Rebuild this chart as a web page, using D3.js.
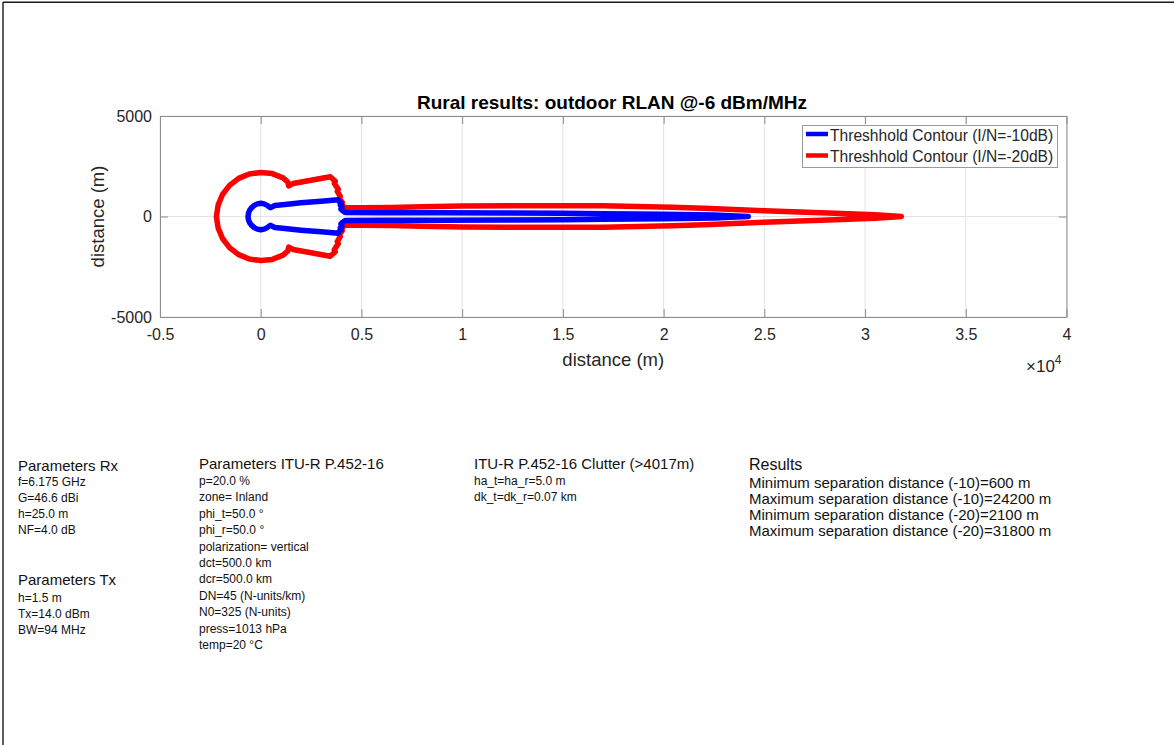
<!DOCTYPE html>
<html>
<head>
<meta charset="utf-8">
<script src="https://cdn.jsdelivr.net/npm/d3@7/dist/d3.min.js"></script>
<style>
  html, body { margin: 0; padding: 0; background: #fff; }
  svg { display: block; }
  text { font-family: "Liberation Sans", Arial, Helvetica, sans-serif; }
</style>
</head>
<body>
<svg id="chart" width="1174" height="745"></svg>
<script>
// ---------------- DATA ----------------
const chartTitle = "Rural results: outdoor RLAN @-6 dBm/MHz";
const xLabel = "distance (m)";
const yLabel = "distance (m)";
const xTicks = [-5000, 0, 5000, 10000, 15000, 20000, 25000, 30000, 35000, 40000];
const xTickLabels = ["-0.5", "0", "0.5", "1", "1.5", "2", "2.5", "3", "3.5", "4"];
const xExponent = "4";
const yTicks = [-5000, 0, 5000];
const yTickLabels = ["-5000", "0", "5000"];
const seriesNames = ["Threshhold Contour (I/N=-10dB)", "Threshhold Contour (I/N=-20dB)"];
const seriesColors = ["#0000ff", "#ff0000"];

// Contour I/N = -10 dB : azimuth (deg) and separation distance (m)
const azimuth10 = [0, 0.178, 0.315, 0.472, 0.611, 0.836, 1.178, 1.814, 2.726,
  4.24, 5.45, 6.65, 8.07, 9.37, 10.9, 12.2, 14.2, 18.8, 26.6, 38.2, 42, 45,
  60, 75, 90, 105, 120, 135, 150, 165, 180,
  195, 210, 225, 240, 255, 270, 285, 300, 315,
  318, 321.8, 333.4, 341.2, 345.8, 347.8, 349.1, 350.63, 351.93, 353.35, 354.55, 355.76,
  357.274, 358.186, 358.822, 359.164, 359.389, 359.528, 359.685, 359.822, 360];
const distance10 = [24200, 22500, 20000, 17000, 15000, 12000, 9000, 6000, 4200,
  4060, 4000, 4060, 3990, 4050, 3960, 3940, 3095, 2112, 1342, 890, 660, 640,
  640, 650, 660, 650, 640, 630, 630, 630, 630,
  630, 630, 630, 640, 650, 660, 650, 640, 640,
  660, 890, 1342, 2112, 3095, 3940, 3960, 4050, 3990, 4060, 4000, 4060,
  4200, 6000, 9000, 12000, 15000, 17000, 20000, 22500, 24200];

// Contour I/N = -20 dB : azimuth (deg) and separation distance (m)
const azimuth20 = [0, 0.169, 0.322, 0.665, 1.068, 1.292, 1.786, 2.357, 2.977, 3.434, 3.960, 5.029, 5.915,
  7.23, 8.57, 9.81, 13.0, 14.21, 18.21, 19.32, 24.33, 25.31, 29.85, 35.75, 45.71, 47.6,
  52, 60, 75, 90, 105, 120, 135, 150, 165, 180,
  195, 210, 225, 240, 255, 270, 285, 300, 308,
  312.4, 314.29, 324.25, 330.15, 334.69, 335.67, 340.68, 341.79, 345.79, 347.0, 350.19, 351.43, 352.77,
  354.085, 354.971, 356.04, 356.566, 357.023, 357.643, 358.214, 358.708, 358.932, 359.335, 359.678, 359.831, 360];
const distance20 = [31800, 30500, 28500, 25000, 22000, 20400, 17008, 13011, 10014, 8014, 6516, 5019, 4172,
  4133, 4025, 4110, 4003, 4075, 4000, 4080, 4006, 4093, 3978, 3081, 2291, 2060,
  2180, 2220, 2210, 2190, 2190, 2190, 2190, 2190, 2190, 2200,
  2190, 2190, 2190, 2190, 2190, 2190, 2210, 2220, 2180,
  2060, 2291, 3081, 3978, 4093, 4006, 4080, 4000, 4075, 4003, 4110, 4025, 4133,
  4172, 5019, 6516, 8014, 10014, 13011, 17008, 20400, 22000, 25000, 28500, 30500, 31800];

const rxTitle = "Parameters Rx";
const rxLines = ["f=6.175 GHz", "G=46.6 dBi", "h=25.0 m", "NF=4.0 dB"];
const txTitle = "Parameters Tx";
const txLines = ["h=1.5 m", "Tx=14.0 dBm", "BW=94 MHz"];
const itTitle = "Parameters ITU-R P.452-16";
const itLines = ["p=20.0 %", "zone= Inland", "phi_t=50.0 °", "phi_r=50.0 °", "polarization= vertical",
  "dct=500.0 km", "dcr=500.0 km", "DN=45 (N-units/km)", "N0=325 (N-units)", "press=1013 hPa", "temp=20 °C"];
const clTitle = "ITU-R P.452-16 Clutter (>4017m)";
const clLines = ["ha_t=ha_r=5.0 m", "dk_t=dk_r=0.07 km"];
const resTitle = "Results";
const resLines = ["Minimum separation distance (-10)=600 m", "Maximum separation distance (-10)=24200 m",
  "Minimum separation distance (-20)=2100 m", "Maximum separation distance (-20)=31800 m"];

// ---------------- DRAW ----------------
const svg = d3.select("#chart");
const textColor = "#262626";

// figure frame (top and left edges)
svg.append("line").attr("x1", 3).attr("x2", 1174).attr("y1", 2.2).attr("y2", 2.2)
  .attr("stroke", "#1a1a1a").attr("stroke-width", 1.6);
svg.append("line").attr("x1", 3).attr("x2", 3).attr("y1", 2).attr("y2", 745)
  .attr("stroke", "#1a1a1a").attr("stroke-width", 1.4);

const plot = { left: 160, right: 1066.5, top: 116, bottom: 317 };
const x = d3.scaleLinear().domain([-5000, 40000]).range([plot.left, plot.right]);
const y = d3.scaleLinear().domain([-5000, 5000]).range([plot.bottom, plot.top]);

// grid
const grid = svg.append("g");
grid.selectAll("line.gx").data(xTicks).join("line")
  .attr("x1", d => x(d)).attr("x2", d => x(d)).attr("y1", plot.top).attr("y2", plot.bottom)
  .attr("stroke", "#e3e3e3").attr("stroke-width", 1);
grid.selectAll("line.gy").data(yTicks).join("line")
  .attr("y1", d => y(d)).attr("y2", d => y(d)).attr("x1", plot.left).attr("x2", plot.right)
  .attr("stroke", "#e3e3e3").attr("stroke-width", 1);

// contours
function toXY(az, dist) {
  return az.map((a, i) => {
    const r = a * Math.PI / 180;
    return [dist[i] * Math.cos(r), dist[i] * Math.sin(r)];
  });
}
const line = d3.line().x(d => x(d[0])).y(d => y(d[1]));
const contours = [toXY(azimuth10, distance10), toXY(azimuth20, distance20)];
const cg = svg.append("g");
[1, 0].forEach(i => {
  cg.append("path").attr("d", line(contours[i]))
    .attr("fill", "none").attr("stroke", seriesColors[i])
    .attr("stroke-width", 5.5).attr("stroke-linejoin", "round").attr("stroke-linecap", "round");
});

// axes
const axColor = "#8c8c8c";
const tickFont = 16;
const xAxisB = d3.axisBottom(x).tickValues(xTicks).tickFormat((d, i) => xTickLabels[i]).tickSizeInner(-8).tickSizeOuter(0).tickPadding(12);
const xAxisT = d3.axisTop(x).tickValues(xTicks).tickFormat("").tickSizeInner(-8).tickSizeOuter(0);
const yAxisL = d3.axisLeft(y).tickValues(yTicks).tickFormat((d, i) => yTickLabels[i]).tickSizeInner(-8).tickSizeOuter(0).tickPadding(8);
const yAxisR = d3.axisRight(y).tickValues(yTicks).tickFormat("").tickSizeInner(-8).tickSizeOuter(0);

function styleAxis(g) {
  g.select(".domain").attr("stroke", axColor).attr("stroke-width", 1);
  g.selectAll(".tick line").attr("stroke", axColor);
  g.selectAll(".tick text").attr("fill", textColor).attr("font-size", tickFont)
    .attr("font-family", "'Liberation Sans', Arial, Helvetica, sans-serif");
}
svg.append("g").attr("transform", `translate(0,${plot.bottom})`).call(xAxisB).call(styleAxis);
svg.append("g").attr("transform", `translate(0,${plot.top})`).call(xAxisT).call(styleAxis);
svg.append("g").attr("transform", `translate(${plot.left},0)`).call(yAxisL).call(styleAxis);
svg.append("g").attr("transform", `translate(${plot.right},0)`).call(yAxisR).call(styleAxis);

// exponent
const ex = svg.append("text").attr("x", 1026).attr("y", 372).attr("fill", textColor).attr("font-size", 17);
ex.append("tspan").text("×10");
ex.append("tspan").attr("font-size", 12).attr("dy", -8).text(xExponent);

// labels & title
svg.append("text").attr("x", (plot.left + plot.right) / 2).attr("y", 366).attr("text-anchor", "middle")
  .attr("fill", textColor).attr("font-size", 18.5).text(xLabel);
svg.append("text").attr("transform", `translate(104,${(plot.top + plot.bottom) / 2}) rotate(-90)`)
  .attr("text-anchor", "middle").attr("fill", textColor).attr("font-size", 18.5).text(yLabel);
svg.append("text").attr("x", 612).attr("y", 109).attr("text-anchor", "middle")
  .attr("fill", "#000").attr("font-size", 19).attr("font-weight", "bold").text(chartTitle);

// legend
const lg = svg.append("g");
lg.append("rect").attr("x", 802.5).attr("y", 125.5).attr("width", 255).attr("height", 42)
  .attr("fill", "#fff").attr("stroke", "#9a9a9a").attr("stroke-width", 1);
seriesNames.forEach((name, i) => {
  const yy = 134 + i * 21.5;
  lg.append("line").attr("x1", 806).attr("x2", 828).attr("y1", yy).attr("y2", yy)
    .attr("stroke", seriesColors[i]).attr("stroke-width", 4.5);
  lg.append("text").attr("x", 830).attr("y", yy + 6.5).attr("fill", textColor)
    .attr("font-size", 15.6).text(name);
});

// parameter text blocks
function block(xp, titleY, title, titleSize, lines, firstY, step, size) {
  svg.append("text").attr("x", xp).attr("y", titleY).attr("fill", "#111").attr("font-size", titleSize).text(title);
  svg.append("g").selectAll("text").data(lines).join("text")
    .attr("x", xp).attr("y", (d, i) => firstY + i * step)
    .attr("fill", "#111").attr("font-size", size).text(d => d);
}
block(18, 471, rxTitle, 15, rxLines, 485.5, 16.3, 12);
block(18, 585, txTitle, 15, txLines, 601.5, 16.3, 12);
block(199, 469, itTitle, 15, itLines, 485, 16.4, 12);
block(474, 469, clTitle, 15, clLines, 485, 16, 12);
block(749, 470, resTitle, 16, resLines, 488, 16, 15);
</script>
</body>
</html>
